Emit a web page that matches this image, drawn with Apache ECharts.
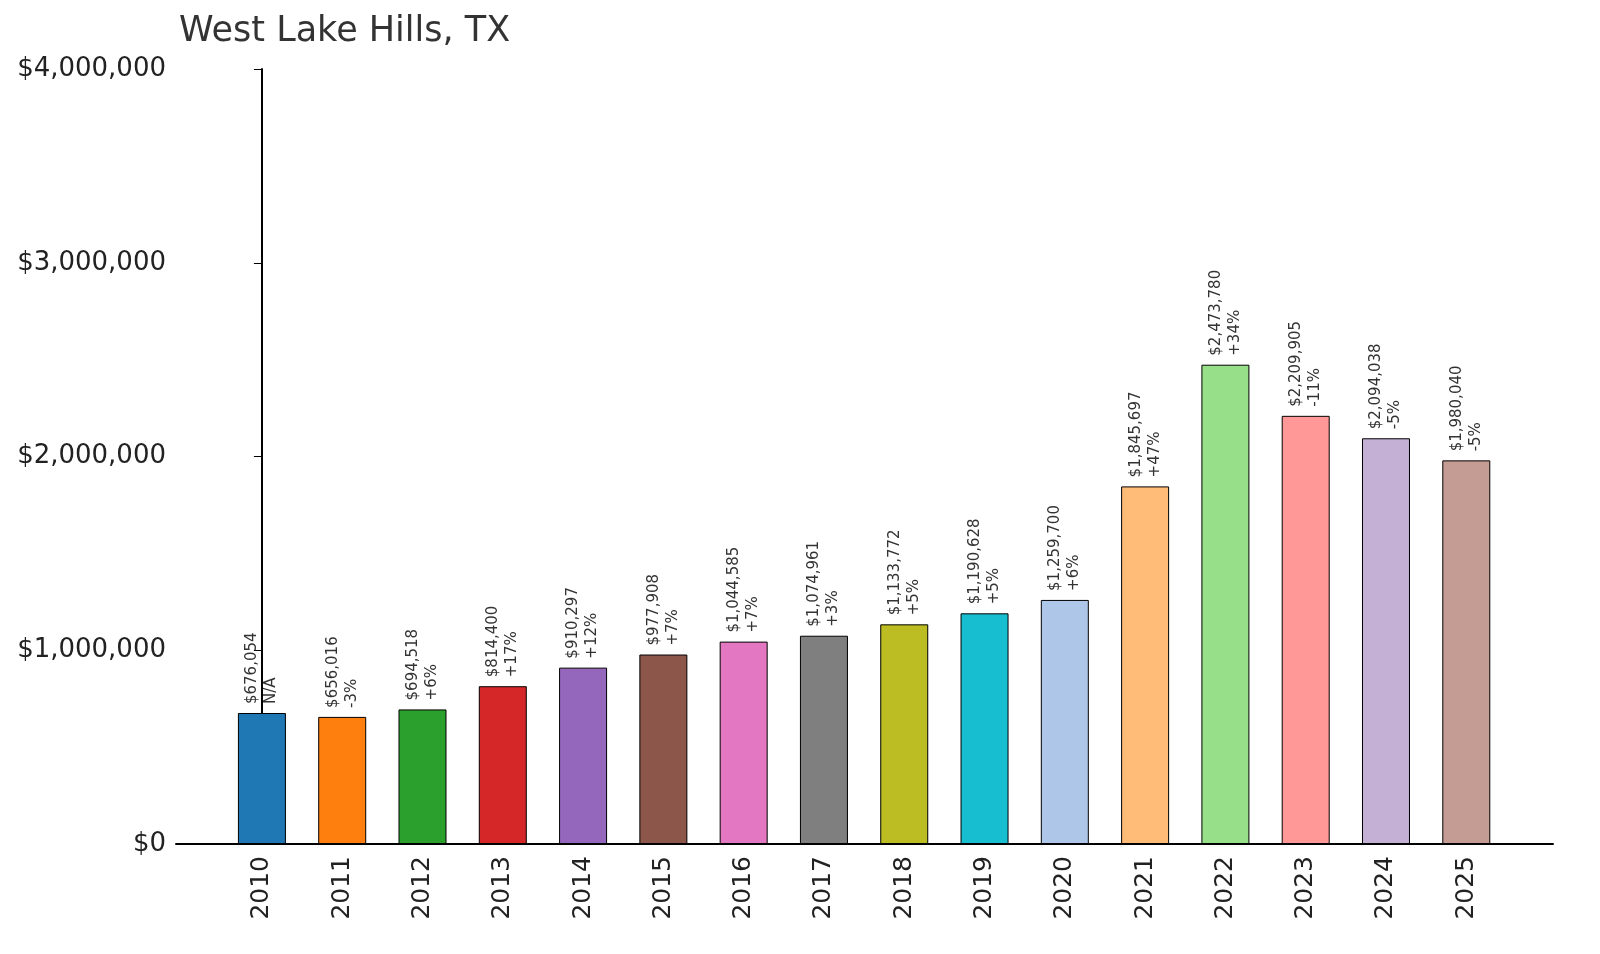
<!DOCTYPE html>
<html><head><meta charset="utf-8">
<script src="https://cdn.jsdelivr.net/npm/echarts@6/dist/echarts.min.js"></script>
<style>html,body{margin:0;padding:0;background:#fff}#c{width:1600px;height:954px}</style>
</head><body><div id="c"></div>
<script>
const years = ['2010','2011','2012','2013','2014','2015','2016','2017','2018','2019','2020','2021','2022','2023','2024','2025'];
const values = [676054,656016,694518,814400,910297,977908,1044585,1074961,1133772,1190628,1259700,1845697,2473780,2209905,2094038,1980040];
const changes = ['N/A','-3%','+6%','+17%','+12%','+7%','+7%','+3%','+5%','+5%','+6%','+47%','+34%','-11%','-5%','-5%'];
const colors = ['#1f77b4','#ff7f0e','#2ca02c','#d62728','#9467bd','#8c564b','#e377c2','#7f7f7f','#bcbd22','#17becf','#aec7e8','#ffbb78','#98df8a','#ff9896','#c5b0d5','#c49c94'];
const yTicks = [0,1000000,2000000,3000000,4000000];
const font = 'DejaVu Sans';
const idx = years.map((y,i)=>i);
const chart = echarts.init(document.getElementById('c'));
chart.setOption({
  animation:false,
  title:{text:'West Lake Hills, TX',left:174,top:9,textStyle:{fontFamily:font,fontSize:35,fontWeight:'normal',color:'#333'}},
  grid:{left:176,right:47,top:69,bottom:110},
  xAxis:{type:'value',min:-1.07,max:16.08,
    splitLine:{show:false},
    axisLine:{lineStyle:{color:'#000',width:2}},
    axisTick:{inside:true,length:6,customValues:idx,lineStyle:{color:'#000'}},
    axisLabel:{rotate:90,fontFamily:font,fontSize:25,color:'#222',margin:12,customValues:idx,
      formatter:v=>years[Math.round(v)]||''}},
  yAxis:{type:'value',min:0,max:4000000,interval:1000000,
    axisLine:{show:true,lineStyle:{color:'#000',width:2}},
    axisTick:{show:true,length:8,lineStyle:{color:'#000'}},
    splitLine:{show:false},
    axisLabel:{fontFamily:font,fontSize:26,color:'#222',margin:10,
      formatter:v=>'$'+v.toLocaleString('en-US')}},
  series:[{type:'bar',barWidth:48,
    data:values.map((v,i)=>({value:[i,v],itemStyle:{color:colors[i],borderColor:'#000',borderWidth:1}})),
    label:{show:true,position:'top',rotate:90,align:'left',verticalAlign:'middle',distance:9,
      fontFamily:font,fontSize:15,color:'#333',lineHeight:19,
      formatter:p=>'$'+values[p.dataIndex].toLocaleString('en-US')+'\n'+changes[p.dataIndex]}}]
});
</script></body></html>
